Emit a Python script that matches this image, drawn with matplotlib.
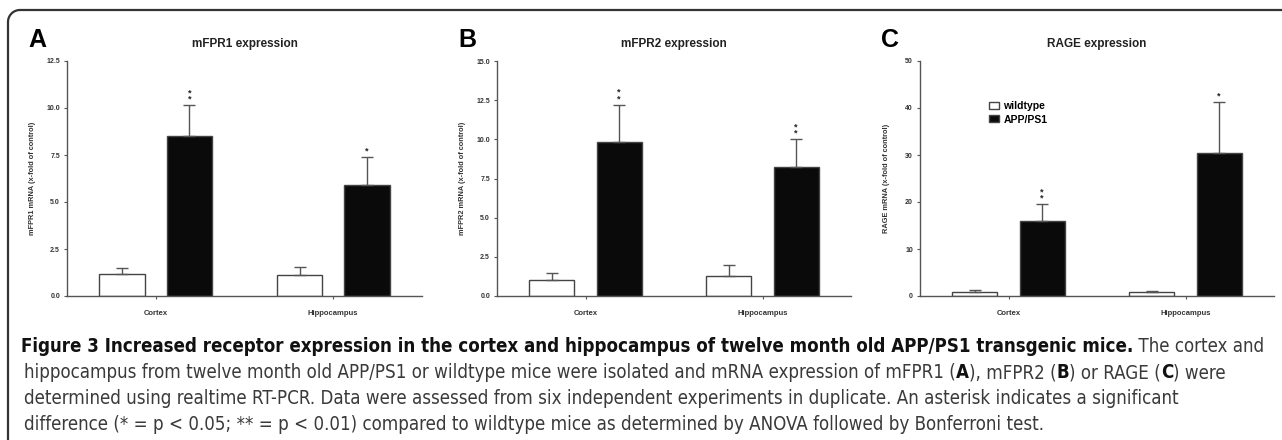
import matplotlib
matplotlib.use("Agg")
import matplotlib.pyplot as plt
from matplotlib import font_manager
from matplotlib.lines import Line2D
from matplotlib.patches import Patch
import numpy as np

W, H, DPI = 1282, 440, 100

# data
regions = ["Cortex", "Hippocampus"]

mfpr1_wt = [1.15, 1.10]
mfpr1_wt_err = [0.33, 0.42]
mfpr1_app = [8.5, 5.9]
mfpr1_app_err = [1.65, 1.5]
mfpr1_stars = ["**", "*"]

mfpr2_wt = [1.0, 1.3]
mfpr2_wt_err = [0.5, 0.65]
mfpr2_app = [9.8, 8.25]
mfpr2_app_err = [2.4, 1.75]
mfpr2_stars = ["**", "**"]

rage_wt = [0.9, 0.8]
rage_wt_err = [0.4, 0.25]
rage_app = [15.9, 30.5]
rage_app_err = [3.6, 10.7]
rage_stars = ["**", "*"]

CHART_FONT = "Liberation Sans"

# caption font: a narrow face if one is installed, else Roboto
CAP_FONT, CAP_STRETCH = "Roboto", "normal"
fonts = font_manager.fontManager.ttflist
if any(f.name == "Liberation Sans Narrow" for f in fonts):
    CAP_FONT = "Liberation Sans Narrow"
elif any(f.name == "DejaVu Sans" and f.stretch == "condensed" for f in fonts):
    CAP_FONT, CAP_STRETCH = "DejaVu Sans", "condensed"
elif any("Condensed" in f.name for f in fonts):
    CAP_FONT = [f.name for f in fonts if "Condensed" in f.name][0]

AXC = "#555555"
TXT = "#333333"


def fx(px):
    return px / W


def fy(py):
    return 1 - py / H


fig = plt.figure(figsize=(W / DPI, H / DPI), dpi=DPI)
fig.patch.set_facecolor("white")

panels = [
    dict(letter="A", left=67, right=422, title="mFPR1 expression",
         ylabel="mFPR1 mRNA (x-fold of control)", wt=mfpr1_wt, wt_err=mfpr1_wt_err,
         app=mfpr1_app, app_err=mfpr1_app_err, stars=mfpr1_stars,
         ymax=12.5, ystep=2.5, fmt="{:.1f}"),
    dict(letter="B", left=497, right=851, title="mFPR2 expression",
         ylabel="mFPR2 mRNA (x-fold of control)", wt=mfpr2_wt, wt_err=mfpr2_wt_err,
         app=mfpr2_app, app_err=mfpr2_app_err, stars=mfpr2_stars,
         ymax=15.0, ystep=2.5, fmt="{:.1f}"),
    dict(letter="C", left=920, right=1274, title="RAGE expression",
         ylabel="RAGE mRNA (x-fold of control)", wt=rage_wt, wt_err=rage_wt_err,
         app=rage_app, app_err=rage_app_err, stars=rage_stars,
         ymax=50, ystep=10, fmt="{:.0f}"),
]

TOP, BOT = 61, 296
x = np.arange(len(regions))
off, bw = 0.19, 0.255

for p in panels:
    ax = fig.add_axes([fx(p["left"]), fy(BOT), (p["right"] - p["left"]) / W, (BOT - TOP) / H])
    ekw = dict(ecolor=AXC, elinewidth=1.0, capsize=4.5, capthick=1.0)
    ax.bar(x - off, p["wt"], bw, color="white", edgecolor="#444444", linewidth=1.0,
           yerr=[np.zeros(len(x)), p["wt_err"]], error_kw=ekw, label="wildtype")
    ax.bar(x + off, p["app"], bw, color="#0a0a0a", edgecolor="#444444", linewidth=1.0,
           yerr=[np.zeros(len(x)), p["app_err"]], error_kw=ekw, label="APP/PS1")

    # significance asterisks stacked above the error bars
    for xi, v, e, s in zip(x + off, p["app"], p["app_err"], p["stars"]):
        ax.annotate("\n".join(s), xy=(xi, v + e), xytext=(0, 1.0), textcoords="offset points",
                    ha="center", va="bottom", fontsize=6.5, fontweight="bold",
                    linespacing=0.65, color="#222222", family=CHART_FONT)

    ax.set_xlim(-0.5, 1.5)
    ax.set_ylim(0, p["ymax"])
    yt = np.arange(0, p["ymax"] + 1e-9, p["ystep"])
    ax.set_yticks(yt)
    ax.set_yticklabels([p["fmt"].format(v) for v in yt], fontsize=5, fontweight="bold",
                       color=TXT, family=CHART_FONT)
    ax.set_xticks(x)
    ax.set_xticklabels(regions, fontsize=5.5, fontweight="bold", color=TXT, family=CHART_FONT)
    ax.tick_params(axis="y", length=2.5, width=0.8, color=AXC, pad=2.5)
    ax.tick_params(axis="x", length=2, width=0.8, color=AXC, pad=8)
    for side in ["top", "right"]:
        ax.spines[side].set_visible(False)
    for side in ["left", "bottom"]:
        ax.spines[side].set_color(AXC)
        ax.spines[side].set_linewidth(1.0)

    ax.set_title(p["title"], fontsize=8.5, fontweight="bold", color="#222222",
                 family=CHART_FONT, pad=10)
    ax.set_ylabel(p["ylabel"], fontsize=5.3, fontweight="bold", color=TXT,
                  family=CHART_FONT, ha="center", va="center")
    ax.yaxis.set_label_coords(-34 / (p["right"] - p["left"]), 0.5)

    fig.text(fx(p["left"] - 39), fy(47), p["letter"], fontsize=18, fontweight="bold",
             color="black", family=CHART_FONT, ha="left", va="baseline")

    if p["letter"] == "C":
        ax.legend(handles=[Patch(facecolor="white", edgecolor="#444444", lw=1.0, label="wildtype"),
                           Patch(facecolor="#0a0a0a", edgecolor="#444444", lw=1.0, label="APP/PS1")],
                  loc="upper left", bbox_to_anchor=(0.196, 0.83), frameon=False,
                  prop=dict(family=CHART_FONT, weight="bold", size=7.5),
                  handlelength=0.9, handleheight=0.65, handletextpad=0.45,
                  labelspacing=0.35, borderpad=0, borderaxespad=0)

# frame: top rule and left rule joined by a rounded corner
r = 12
t = np.linspace(np.pi, np.pi / 2, 20)
fr_x = np.concatenate([[8], 8 + r + r * np.cos(t), [W + 5]])
fr_y = np.concatenate([[H + 5], 10 + r - r * np.sin(t), [10]])
fig.add_artist(Line2D(fx(fr_x), fy(fr_y), transform=fig.transFigure, color="#333333", lw=1.6))

# caption
caption = [
    [("Figure 3 Increased receptor expression in the cortex and hippocampus of twelve month old APP/PS1 transgenic mice.", True),
     (" The cortex and", False)],
    [("hippocampus from twelve month old APP/PS1 or wildtype mice were isolated and mRNA expression of mFPR1 (", False),
     ("A", True), ("), mFPR2 (", False), ("B", True), (") or RAGE (", False), ("C", True), (") were", False)],
    [("determined using realtime RT-PCR. Data were assessed from six independent experiments in duplicate. An asterisk indicates a significant", False)],
    [("difference (* = p < 0.05; ** = p < 0.01) compared to wildtype mice as determined by ANOVA followed by Bonferroni test.", False)],
]
baselines = [352, 378, 404, 430]
renderer = fig.canvas.get_renderer()


def draw_line(runs, x0, y, size, measure=False):
    xx = x0
    made = []
    for txt, bold in runs:
        t = fig.text(fx(xx), fy(y), txt, fontsize=size, fontweight="bold" if bold else "normal",
                     family=CAP_FONT, fontstretch=CAP_STRETCH,
                     color="#111111" if bold else "#3a3a3a", ha="left", va="baseline")
        xx += t.get_window_extent(renderer).width
        made.append(t)
    if measure:
        for t in made:
            t.remove()
    return xx - x0


w1 = draw_line(caption[0], 21, 352, 10, measure=True)
w2 = draw_line(caption[1], 24, 378, 10, measure=True)
cap_size = min(10 * (1264 - 21) / w1, 10 * (1263 - 24) / w2)
for k, (runs, yb) in enumerate(zip(caption, baselines)):
    draw_line(runs, 21 if k == 0 else 24, yb, cap_size)

fig.savefig("out.png", dpi=DPI, facecolor="white")
